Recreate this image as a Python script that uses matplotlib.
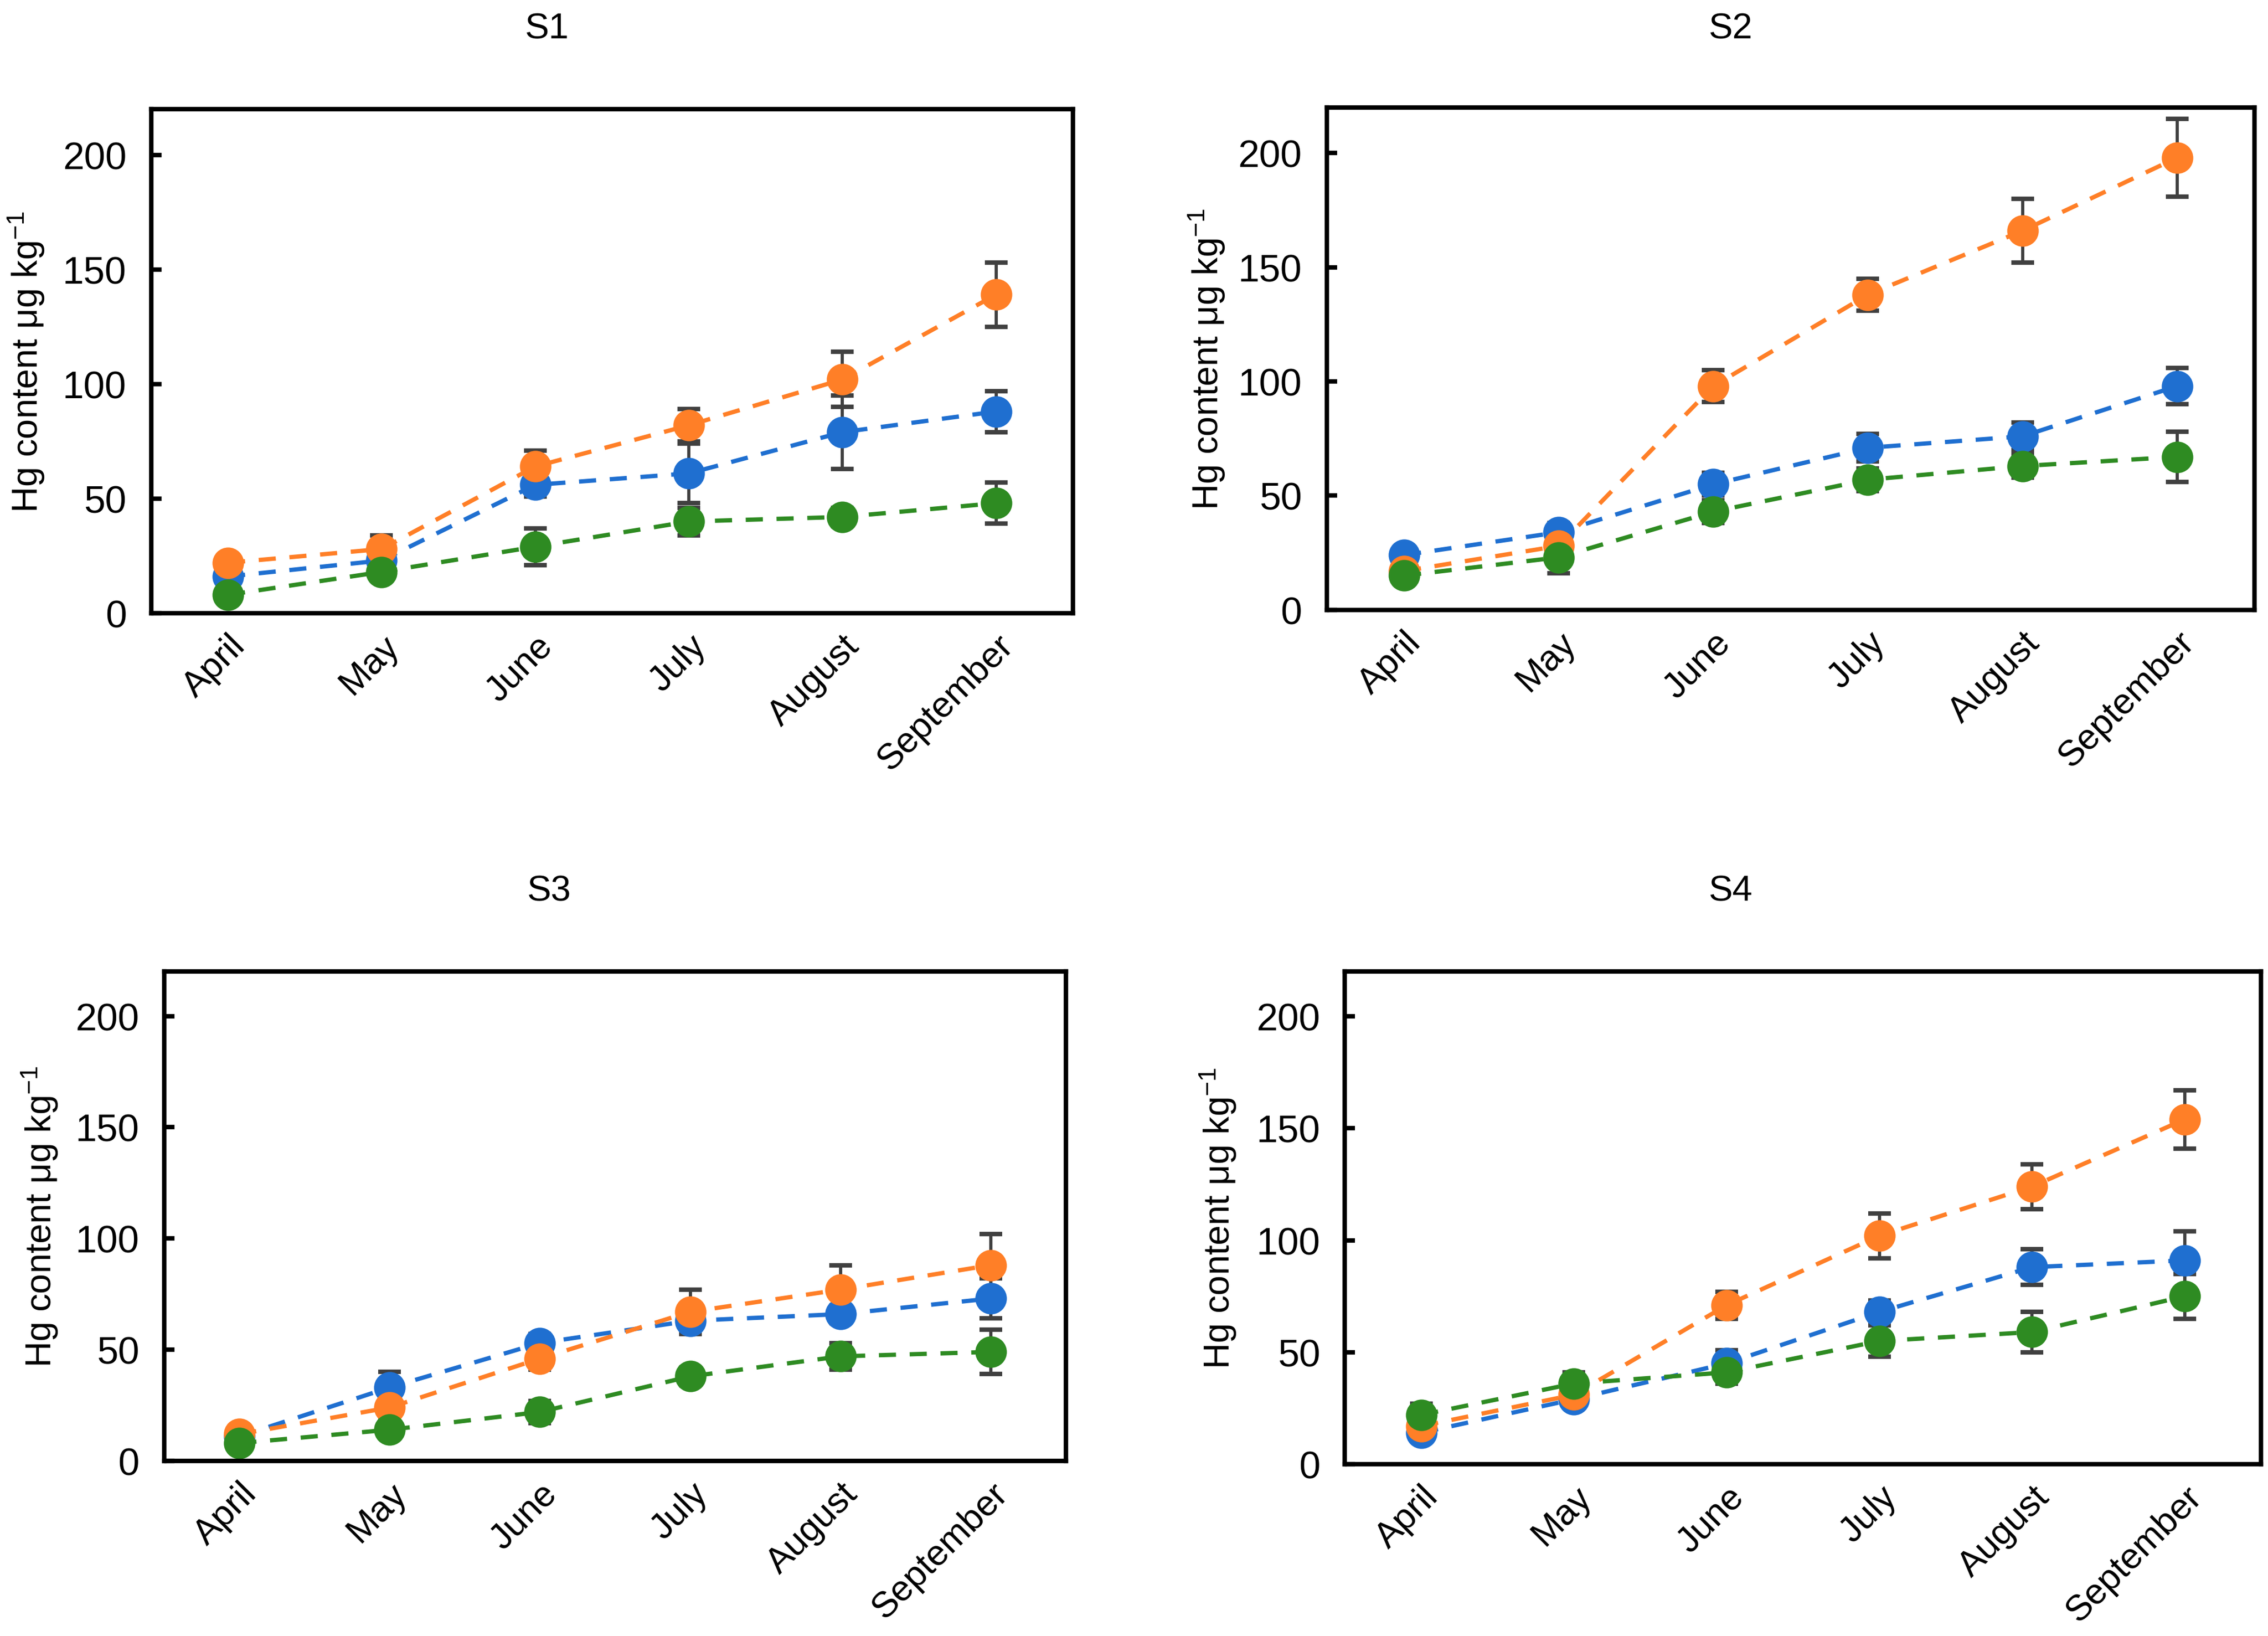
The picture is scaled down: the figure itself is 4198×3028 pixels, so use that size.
import matplotlib
matplotlib.use("Agg")
import matplotlib.pyplot as plt

plt.rcParams['font.family'] = ['Liberation Sans', 'DejaVu Sans']
plt.rcParams['mathtext.default'] = 'regular'

months = ["April", "May", "June", "July", "August", "September"]
sites = ["S1", "S2", "S3", "S4"]

# mean values per site (blue, orange, green series)
blue = {
    "S1": [16, 23, 56, 61, 79, 88],
    "S2": [24, 34, 55, 71, 76, 98],
    "S3": [11, 33, 53, 63, 66, 73],
    "S4": [14, 29, 45, 68, 88, 91],
}
blue_err = {
    "S1": [3, 3, 5, 13, 16, 9],
    "S2": [2, 4, 5, 6, 6, 8],
    "S3": [2, 7, 4, 6, 4, 9],
    "S4": [3, 2, 6, 5, 8, 13],
}
orange = {
    "S1": [22, 28, 64, 82, 102, 139],
    "S2": [17, 28, 98, 138, 166, 198],
    "S3": [12, 24, 46, 67, 77, 88],
    "S4": [17, 31, 71, 102, 124, 154],
}
orange_err = {
    "S1": [3, 6, 7, 7, 12, 14],
    "S2": [2, 3, 7, 7, 14, 17],
    "S3": [2, 5, 5, 10, 11, 14],
    "S4": [3, 3, 6, 10, 10, 13],
}
green = {
    "S1": [8, 18, 29, 40, 42, 48],
    "S2": [15, 23, 43, 57, 63, 67],
    "S3": [8, 14, 22, 38, 47, 49],
    "S4": [22, 36, 41, 55, 59, 75],
}
green_err = {
    "S1": [2, 2, 8, 6, 4, 9],
    "S2": [2, 7, 5, 5, 5, 11],
    "S3": [2, 2, 5, 4, 6, 10],
    "S4": [5, 5, 5, 7, 9, 10],
}

# axes boxes [left, bottom, width, height] in figure fraction
boxes = {
    "S1": [0.0667, 0.625, 0.4063, 0.308],
    "S2": [0.585, 0.627, 0.409, 0.307],
    "S3": [0.0724, 0.107, 0.3976, 0.299],
    "S4": [0.593, 0.105, 0.404, 0.301],
}
title_pos = {"S1": (0.241, 0.982), "S2": (0.763, 0.982),
             "S3": (0.242, 0.455), "S4": (0.763, 0.455)}
ylabel_x = {"S1": 0.0115, "S2": 0.532, "S3": 0.0175, "S4": 0.537}

fig = plt.figure(figsize=(4198 / 300, 3029 / 300), dpi=300)
x = list(range(len(months)))

for s in sites:
    ax = fig.add_axes(boxes[s])
    for vals, errs, col in [(blue[s], blue_err[s], "#1f6fd0"),
                            (orange[s], orange_err[s], "#ff7f27"),
                            (green[s], green_err[s], "#2e8b22")]:
        ax.errorbar(x, vals, yerr=errs, color=col, linestyle=(0, (4, 3.2)),
                    linewidth=1.9, marker="o", markersize=13,
                    ecolor="#404040", elinewidth=1.4, capsize=5, capthick=2)
    ax.set_xlim(-0.5, 5.5)
    ax.set_ylim(0, 220)
    ax.set_yticks([0, 50, 100, 150, 200])
    ax.set_xticks(x)
    ax.set_xticklabels(months, rotation=45, ha="right", rotation_mode="anchor")
    ax.tick_params(axis="y", direction="in", length=4.5, width=2, labelsize=17, pad=11)
    ax.tick_params(axis="x", length=0, labelsize=16, pad=7)
    for sp in ax.spines.values():
        sp.set_linewidth(2)
    fig.text(ylabel_x[s], boxes[s][1] + boxes[s][3] / 2, "Hg content μg kg$^{-1}$",
             rotation=90, ha="center", va="center", fontsize=16)
    fig.text(title_pos[s][0], title_pos[s][1], s, ha="center", va="center", fontsize=16)

fig.savefig("out.png", dpi=300, facecolor="white")
